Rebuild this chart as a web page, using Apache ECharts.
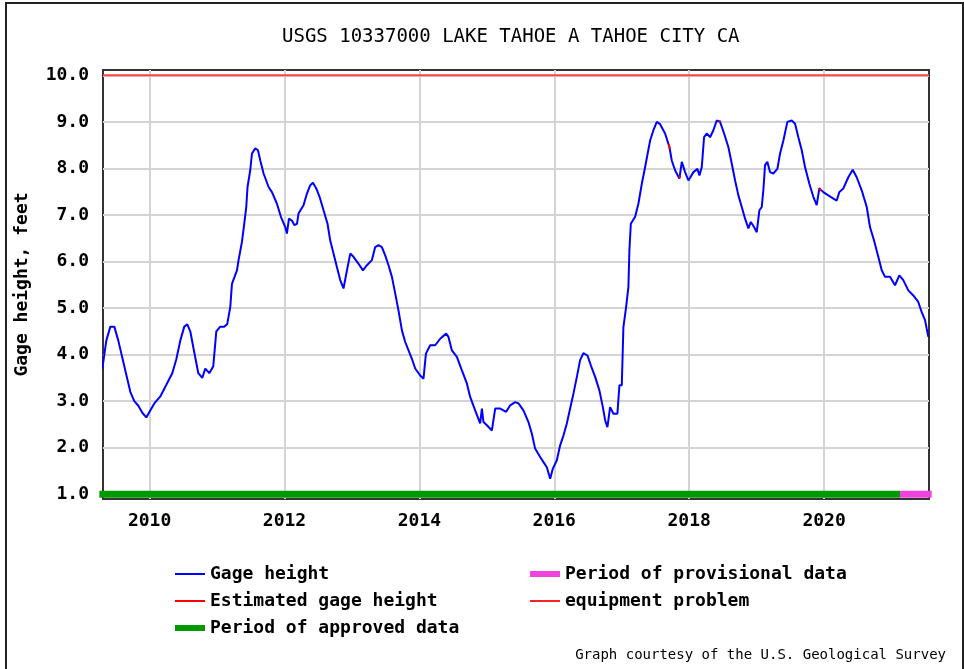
<!DOCTYPE html>
<html>
<head>
<meta charset="utf-8">
<title>USGS 10337000 LAKE TAHOE A TAHOE CITY CA</title>
<script src="https://cdn.jsdelivr.net/npm/echarts@6.0.0/dist/echarts.min.js"></script>
<style>
html, body { margin: 0; padding: 0; background: #ffffff; }
#main { width: 964px; height: 669px; }
</style>
</head>
<body>
<div id="main"></div>
<script>
// axis labels
var yearLabels = [2010, 2012, 2014, 2016, 2018, 2020];
var heightLabels = [1, 2, 3, 4, 5, 6, 7, 8, 9, 10];
var yearRange = [2009.309, 2021.556];
var heightRange = [0.897, 10.114];

// gage height, feet (decimal year)
var gageYears = [
    2009.299, 2009.358, 2009.418, 2009.477, 2009.536, 2009.625, 2009.714, 2009.773, 2009.833, 2009.892,
    2009.951, 2010.010, 2010.070, 2010.159, 2010.248, 2010.336, 2010.396, 2010.455, 2010.514, 2010.559,
    2010.603, 2010.662, 2010.722, 2010.781, 2010.826, 2010.885, 2010.944, 2010.989, 2011.048, 2011.107,
    2011.150, 2011.196, 2011.221, 2011.295, 2011.319, 2011.369, 2011.404, 2011.433, 2011.452, 2011.492,
    2011.518, 2011.567, 2011.607, 2011.641, 2011.690, 2011.764, 2011.814, 2011.888, 2011.947, 2012.011,
    2012.036, 2012.066, 2012.111, 2012.145, 2012.185, 2012.208, 2012.282, 2012.333, 2012.382, 2012.422,
    2012.471, 2012.520, 2012.579, 2012.638, 2012.678, 2012.727, 2012.777, 2012.826, 2012.875, 2012.900,
    2012.926, 2012.975, 2013.023, 2013.098, 2013.163, 2013.222, 2013.296, 2013.345, 2013.394, 2013.444,
    2013.493, 2013.542, 2013.593, 2013.642, 2013.690, 2013.741, 2013.790, 2013.839, 2013.889, 2013.938,
    2014.012, 2014.061, 2014.097, 2014.160, 2014.234, 2014.308, 2014.397, 2014.431, 2014.482, 2014.556,
    2014.630, 2014.704, 2014.753, 2014.827, 2014.901, 2014.927, 2014.950, 2015.001, 2015.075, 2015.124,
    2015.198, 2015.287, 2015.346, 2015.420, 2015.469, 2015.543, 2015.617, 2015.668, 2015.716, 2015.791,
    2015.840, 2015.890, 2015.939, 2015.979, 2016.038, 2016.087, 2016.136, 2016.186, 2016.235, 2016.284,
    2016.335, 2016.383, 2016.432, 2016.492, 2016.542, 2016.606, 2016.669, 2016.720, 2016.754, 2016.788,
    2016.828, 2016.877, 2016.936, 2016.966, 2017.001, 2017.025, 2017.065, 2017.099, 2017.114, 2017.135,
    2017.199, 2017.247, 2017.298, 2017.347, 2017.421, 2017.470, 2017.520, 2017.569, 2017.643, 2017.707,
    2017.742, 2017.791, 2017.855, 2017.891, 2017.940, 2017.989, 2018.063, 2018.122, 2018.152, 2018.187,
    2018.221, 2018.261, 2018.310, 2018.359, 2018.409, 2018.458, 2018.518, 2018.581, 2018.632, 2018.681,
    2018.730, 2018.780, 2018.829, 2018.878, 2018.914, 2018.962, 2019.002, 2019.041, 2019.076, 2019.100,
    2019.125, 2019.159, 2019.199, 2019.248, 2019.308, 2019.348, 2019.397, 2019.456, 2019.521, 2019.570,
    2019.619, 2019.669, 2019.718, 2019.782, 2019.841, 2019.891, 2019.930, 2019.989, 2020.063, 2020.138,
    2020.188, 2020.226, 2020.286, 2020.360, 2020.425, 2020.484, 2020.558, 2020.633, 2020.681, 2020.741,
    2020.804, 2020.855, 2020.904, 2020.978, 2021.052, 2021.116, 2021.175, 2021.249, 2021.323, 2021.397,
    2021.448, 2021.497, 2021.546
];
var gageFeet = [
    3.70, 4.30, 4.60, 4.60, 4.30, 3.75, 3.20, 3.00, 2.90, 2.75,
    2.65, 2.80, 2.95, 3.10, 3.35, 3.60, 3.90, 4.30, 4.60, 4.65,
    4.50, 4.05, 3.60, 3.50, 3.70, 3.60, 3.75, 4.50, 4.60, 4.60,
    4.65, 5.02, 5.52, 5.81, 6.03, 6.42, 6.82, 7.17, 7.60, 7.96,
    8.32, 8.43, 8.39, 8.17, 7.89, 7.60, 7.49, 7.24, 6.96, 6.74,
    6.60, 6.92, 6.88, 6.78, 6.81, 7.03, 7.21, 7.46, 7.64, 7.69,
    7.57, 7.39, 7.10, 6.81, 6.45, 6.17, 5.88, 5.60, 5.42, 5.38,
    5.81, 6.17, 6.10, 5.95, 5.81, 5.92, 6.03, 6.31, 6.35, 6.31,
    6.13, 5.92, 5.67, 5.31, 4.95, 4.52, 4.27, 4.09, 3.91, 3.70,
    3.55, 3.48, 4.02, 4.20, 4.20, 4.34, 4.45, 4.38, 4.09, 3.95,
    3.66, 3.38, 3.09, 2.80, 2.52, 2.84, 2.55, 2.48, 2.37, 2.84,
    2.84, 2.77, 2.91, 2.98, 2.95, 2.80, 2.55, 2.30, 1.98, 1.80,
    1.69, 1.58, 1.33, 1.55, 1.73, 2.05, 2.26, 2.52, 2.84, 3.16,
    3.52, 3.88, 4.03, 3.98, 3.77, 3.52, 3.23, 2.87, 2.59, 2.44,
    2.87, 2.73, 2.73, 3.34, 3.34, 4.59, 5.02, 5.45, 6.24, 6.81,
    6.96, 7.24, 7.67, 8.03, 8.60, 8.82, 9.00, 8.95, 8.75, 8.46,
    8.17, 7.96, 7.78, 8.14, 7.92, 7.74, 7.92, 7.99, 7.85, 8.03,
    8.67, 8.75, 8.67, 8.82, 9.03, 9.00, 8.75, 8.46, 8.10, 7.74,
    7.42, 7.17, 6.92, 6.71, 6.85, 6.74, 6.63, 7.10, 7.17, 7.53,
    8.07, 8.14, 7.92, 7.89, 7.99, 8.32, 8.60, 9.00, 9.03, 8.96,
    8.67, 8.39, 8.03, 7.67, 7.39, 7.21, 7.57, 7.49, 7.42, 7.35,
    7.31, 7.49, 7.57, 7.81, 7.97, 7.81, 7.53, 7.17, 6.74, 6.45,
    6.10, 5.81, 5.67, 5.67, 5.49, 5.70, 5.60, 5.38, 5.27, 5.13,
    4.91, 4.74, 4.38
];

// short estimated stretches (null = gap)
var estimatedYears = [2017.695, 2017.715, null, 2017.850, 2017.870, null, 2018.445, 2018.465, null, 2019.925, 2019.955];
var estimatedFeet = [8.52, 8.42, null, 7.85, 7.80, null, 9.03, 9.00, null, 7.58, 7.52];

// status periods
var equipmentYears = [2009.309, 2021.556];
var equipmentLevel = 10.0;
var approvedYears = [2009.255, 2021.126];
var provisionalYears = [2021.126, 2021.596];
var periodLevel = 1.0;

var FONT = '"DejaVu Sans Mono", "Liberation Mono", monospace';
// legend swatches: 30x14 box, thin line or thick bar
var THIN_ICON = 'path://M0,0L0,0ZM0,6L30,6L30,8L0,8ZM30,14L30,14Z';
var BAR_ICON = 'path://M0,0L0,0ZM0,4L30,4L30,10L0,10ZM30,14L30,14Z';

function pairs(xs, ys) {
    return xs.map(function (x, i) {
        return x === null ? null : [x, ys[i]];
    });
}
function flat(xs, level) {
    return xs.map(function (x) { return [x, level]; });
}

var chart = echarts.init(document.getElementById('main'), null, { renderer: 'canvas' });

var legendText = { fontFamily: FONT, fontSize: 18, fontWeight: 'bold', color: '#000', lineHeight: 20 };

var option = {
    backgroundColor: '#ffffff',
    animation: false,
    title: {
        text: 'USGS 10337000 LAKE TAHOE A TAHOE CITY CA',
        left: 282,
        top: 28,
        padding: 0,
        textStyle: {
            fontFamily: FONT,
            fontSize: 19,
            fontWeight: 'normal',
            color: '#000'
        }
    },
    legend: [{
        data: [
            { name: 'Gage height', icon: THIN_ICON },
            { name: 'Estimated gage height', icon: THIN_ICON },
            { name: 'Period of approved data', icon: BAR_ICON }
        ],
        orient: 'vertical',
        left: 175,
        top: 564,
        padding: 0,
        itemWidth: 30,
        itemHeight: 14,
        itemGap: 7,
        selectedMode: false,
        itemStyle: { borderWidth: 0 },
        textStyle: legendText
    }, {
        data: [
            { name: 'Period of provisional data', icon: BAR_ICON },
            { name: 'equipment problem', icon: THIN_ICON }
        ],
        orient: 'vertical',
        left: 530,
        top: 564,
        padding: 0,
        itemWidth: 30,
        itemHeight: 14,
        itemGap: 7,
        selectedMode: false,
        itemStyle: { borderWidth: 0 },
        textStyle: legendText
    }],
    grid: {
        left: 103,
        right: 35,
        top: 70,
        bottom: 170,
        show: true,
        borderColor: '#333',
        borderWidth: 2,
        backgroundColor: 'transparent'
    },
    xAxis: {
        type: 'value',
        min: yearRange[0],
        max: yearRange[1],
        axisLine: { show: false },
        axisTick: { show: false, customValues: yearLabels },
        axisLabel: {
            customValues: yearLabels,
            margin: 13,
            fontFamily: FONT,
            fontSize: 18,
            fontWeight: 'bold',
            color: '#000',
            formatter: function (v) { return String(v); }
        },
        splitLine: { show: true, lineStyle: { color: '#d4d4d4', width: 2 } }
    },
    yAxis: {
        type: 'value',
        min: heightRange[0],
        max: heightRange[1],
        name: 'Gage height, feet',
        nameLocation: 'middle',
        nameGap: 72,
        nameTextStyle: { fontFamily: FONT, fontSize: 18, fontWeight: 'bold', color: '#000' },
        axisLine: { show: false },
        axisTick: { show: false, customValues: heightLabels },
        axisLabel: {
            customValues: heightLabels,
            margin: 14,
            fontFamily: FONT,
            fontSize: 18,
            fontWeight: 'bold',
            color: '#000',
            formatter: function (v) { return v.toFixed(1); }
        },
        splitLine: { show: true, lineStyle: { color: '#d4d4d4', width: 2 } }
    },
    graphic: [{
        type: 'rect',
        shape: { x: 6, y: 3, width: 957, height: 720 },
        style: { fill: 'none', stroke: '#222', lineWidth: 2 },
        silent: true
    }, {
        type: 'text',
        right: 18,
        top: 648,
        style: {
            text: 'Graph courtesy of the U.S. Geological Survey',
            font: '14px ' + FONT,
            fill: '#000'
        },
        silent: true
    }],
    series: [{
        name: 'equipment problem',
        type: 'line',
        symbol: 'none',
        lineStyle: { color: '#ff4444', width: 2 },
        itemStyle: { color: '#ff2222' },
        data: flat(equipmentYears, equipmentLevel),
        z: 2
    }, {
        name: 'Period of approved data',
        type: 'line',
        symbol: 'none',
        clip: false,
        lineStyle: { color: '#009900', width: 7 },
        itemStyle: { color: '#009900' },
        data: flat(approvedYears, periodLevel),
        z: 3
    }, {
        name: 'Period of provisional data',
        type: 'line',
        symbol: 'none',
        clip: false,
        lineStyle: { color: '#ee44dd', width: 7 },
        itemStyle: { color: '#ee44dd' },
        data: flat(provisionalYears, periodLevel),
        z: 3
    }, {
        name: 'Gage height',
        type: 'line',
        symbol: 'none',
        lineStyle: { color: '#0000ff', width: 2 },
        itemStyle: { color: '#0000ff' },
        data: pairs(gageYears, gageFeet),
        z: 4
    }, {
        name: 'Estimated gage height',
        type: 'line',
        symbol: 'none',
        connectNulls: false,
        lineStyle: { color: '#ff0000', width: 2 },
        itemStyle: { color: '#ff0000' },
        data: pairs(estimatedYears, estimatedFeet),
        z: 5
    }]
};

chart.setOption(option);
</script>
</body>
</html>
